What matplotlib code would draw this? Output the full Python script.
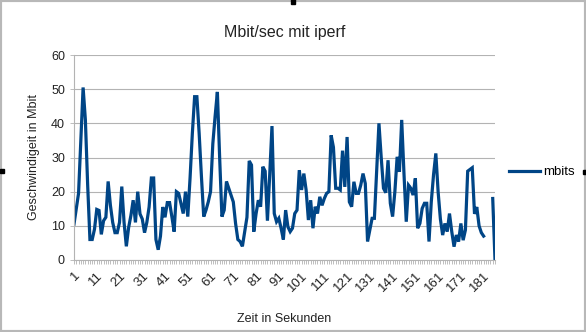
import numpy as np
import matplotlib
matplotlib.use("Agg")
import matplotlib.pyplot as plt
from matplotlib.patches import Rectangle

plt.rcParams['font.family'] = ['Liberation Sans', 'DejaVu Sans']

# mbits per second, one value per second (nan = no measurement)
mbits = [
    10.5, 15, 19.5, 35, 50.5, 41, 22, 6, 6, 9,
    14.8, 14.5, 7.5, 11.5, 12.5, 23, 16, 11, 8, 8,
    11, 21.5, 11, 4, 9.5, 13, 17.5, 11, 20, 13.5,
    12, 8, 11, 15.5, 24, 24, 6, 3, 7, 15.5,
    12.5, 16.8, 16.8, 12.7, 8.3, 20, 19.5, 16.6, 13.6, 20,
    12.7, 24, 37, 47.8, 47.8, 37, 24.4, 12.7, 14.6, 17,
    20, 34, 42, 49.2, 30, 12.7, 14.6, 23, 21, 19,
    17, 10.7, 6, 5.4, 4, 8.3, 12.5, 29, 27.8, 8.3,
    13.5, 17.5, 15.6, 27.3, 26, 11.5, 25, 39.2, 13.6, 11.2,
    12.2, 9.3, 6, 14.6, 9.7, 8.3, 9.3, 13.6, 14.6, 26.3,
    20.5, 25.3, 20.5, 11.7, 17.5, 9.3, 15.6, 13.6, 18.5, 16,
    18, 19.5, 20, 36.5, 33, 21, 21, 20.5, 32, 21.4,
    36, 17, 15.6, 22.9, 19.5, 19.5, 21.9, 25.3, 22.4, 5.4,
    8.8, 12.2, 12.2, 26, 40, 30, 21, 19.7, 29.2, 16.6,
    12.7, 20, 30.2, 25.8, 41, 25.3, 11.2, 21.9, 21, 19,
    23.9, 9.3, 10.7, 15.1, 16.6, 16.6, 5.4, 17, 25, 31.2,
    20, 12, 7.3, 10.7, 8.3, 13.6, 8.3, 3.9, 7.3, 5.4,
    10.7, 5.8, 8.8, 26, 26.5, 27, 13.5, 15.5, 10, 8,
    7, np.nan, np.nan, np.nan, 18, 0,
]
seconds = np.arange(1, len(mbits) + 1)
xtick_labels = [str(s) for s in range(1, 182, 10)]

fig = plt.figure(figsize=(5.86, 3.32), dpi=100)
ax = fig.add_axes([74 / 586, 72 / 332, 421 / 586, 205 / 332])

ax.plot(seconds, mbits, color='#004586', linewidth=2.3, solid_joinstyle='miter',
        label='mbits')

ax.set_xlim(1, len(mbits))
ax.set_ylim(0, 60)
ax.set_yticks(range(0, 61, 10))
ax.set_xticks(range(1, 182, 10))
ax.set_xticklabels(xtick_labels, rotation=45, ha='right', va='top',
                   rotation_mode='anchor')
ax.set_xticks(seconds, minor=True)

grey = '#b3b3b3'
ax.grid(axis='y', color=grey, linewidth=0.8)
ax.set_axisbelow(True)
for side in ('top', 'right'):
    ax.spines[side].set_visible(False)
for side in ('left', 'bottom'):
    ax.spines[side].set_color(grey)
    ax.spines[side].set_linewidth(0.8)
ax.tick_params(axis='both', which='both', color=grey, labelsize=9,
               labelcolor='#222222', length=3, width=0.6)
ax.tick_params(axis='x', which='major', labelsize=9.5, length=3, pad=4)

ax.set_title('Mbit/sec mit iperf', fontsize=11.5, color='#222222', pad=13)
ax.set_ylabel('Geschwindigeit in Mbit', fontsize=9, color='#222222', labelpad=8)
ax.set_xlabel('Zeit in Sekunden', fontsize=9, color='#222222', labelpad=14)

fig.legend(loc='center left', bbox_to_anchor=(504 / 586, 1 - 172 / 332),
           frameon=False, fontsize=9.5, handlelength=2.3, handletextpad=0.3,
           borderaxespad=0)

# outer frame and selection handles like the original screenshot
fig.patches.append(Rectangle((0, 0), 1, 1, transform=fig.transFigure,
                             fill=False, edgecolor='#b8b8b8', linewidth=3))
for hx, hy in [(293, 1.5), (1.5, 171), (584.5, 172)]:
    fig.patches.append(Rectangle(((hx - 2) / 586, 1 - (hy + 2) / 332), 4 / 586, 4 / 332,
                                 transform=fig.transFigure, color='black'))

fig.savefig('out.png', dpi=100)
